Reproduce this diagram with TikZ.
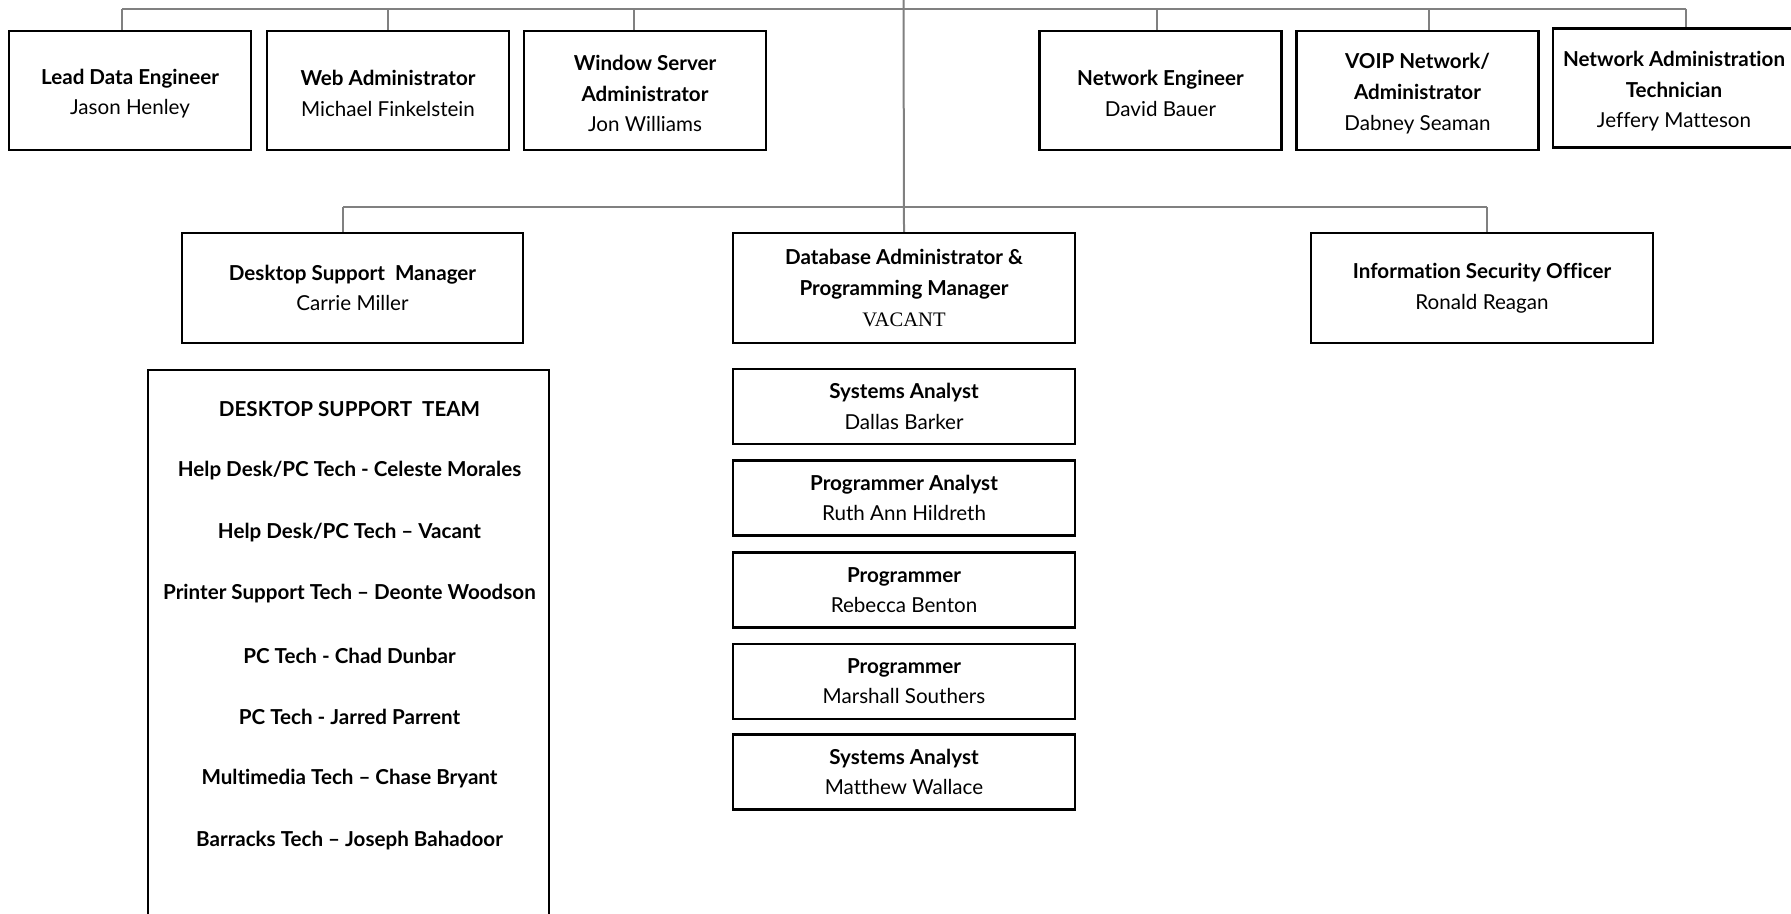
\documentclass[tikz,border=0pt]{standalone}
\usepackage{fontspec}
\setmainfont{Lato}[Ligatures={TeX,NoCommon}]
\newfontfamily\vacfont{Liberation Serif}
\newcommand\dn[1]{\raisebox{-1.6pt}[\height][\depth]{#1}}
\begin{document}
\begin{tikzpicture}[x=0.5pt,y=-0.5pt,
  box/.style={draw=black,line width=1.2pt,align=center,inner sep=0pt,
    font=\fontsize{10.3}{15.3}\selectfont},
  topbox/.style={box,minimum width=121pt,minimum height=59.5pt},
  midbox/.style={box,minimum width=170.75pt,minimum height=55pt},
  colbox/.style={box,minimum width=170.75pt,minimum height=37.5pt},
  teamitem/.style={font=\fontsize{10.3}{15}\selectfont\bfseries,inner sep=0pt},
  conn/.style={draw=black!50,line width=1pt}]
\useasboundingbox (0,0) rectangle (1791,914);
\clip (0,0) rectangle (1791,914);

% top row
\node[topbox] (ld) at (130,90.5) {\dn{\textbf{Lead Data Engineer}}\\\dn{Jason Henley}};
\node[topbox] (web) at (388,90.5) {\dn{\textbf{Web Administrator}}\\\dn{Michael Finkelstein}};
\node[topbox] (win) at (645,90.5) {\dn{\textbf{Window Server}}\\\dn{\textbf{Administrator}}\\\dn{Jon Williams}};
\node[topbox] (ne) at (1160.5,90.5) {\dn{\textbf{Network Engineer}}\\\dn{David Bauer}};
\node[topbox] (voip) at (1417.5,90.5) {\dn{\textbf{VOIP Network/}}\\\dn{\textbf{Administrator}}\\\dn{Dabney Seaman}};
\node[topbox] (nat) at (1674,88) {\dn{\textbf{Network Administration}}\\\dn{\textbf{Technician}}\\\dn{Jeffery Matteson}};

% second row
\node[midbox] (dsm) at (352.5,288) {\textbf{Desktop Support\ \ Manager}\\Carrie Miller};
\node[midbox] (db) at (904,288) {\textbf{Database Administrator \&}\\\textbf{Programming Manager}\\{\vacfont VACANT}};
\node[midbox] (iso) at (1482,288) {\textbf{Information Security Officer}\\Ronald Reagan};

% desktop support team
\node[draw=black,line width=1.2pt,minimum width=200.5pt,minimum height=300pt,anchor=north,inner sep=0pt] (team) at (348.5,369) {};
\node[teamitem] (t0) at (349.5,409) {DESKTOP SUPPORT\ \ TEAM};
\node[teamitem] (t1) at (349.5,470.6) {Help Desk/PC Tech - Celeste Morales};
\node[teamitem] (t2) at (349.5,532.3) {Help Desk/PC Tech -- Vacant};
\node[teamitem] (t3) at (349.5,594) {Printer Support Tech -- Deonte Woodson};
\node[teamitem] (t4) at (349.5,655.7) {PC Tech - Chad Dunbar};
\node[teamitem] (t5) at (349.5,717.4) {PC Tech - Jarred Parrent};
\node[teamitem] (t6) at (349.5,779) {Multimedia Tech -- Chase Bryant};
\node[teamitem] (t7) at (349.5,840.8) {Barracks Tech -- Joseph Bahadoor};

% programming column
\node[colbox] (c1) at (904,406.6) {\textbf{Systems Analyst}\\Dallas Barker};
\node[colbox] (c2) at (904,498) {\textbf{Programmer Analyst}\\Ruth Ann Hildreth};
\node[colbox] (c3) at (904,590) {\textbf{Programmer}\\Rebecca Benton};
\node[colbox] (c4) at (904,681.3) {\textbf{Programmer}\\Marshall Southers};
\node[colbox] (c5) at (904,772.1) {\textbf{Systems Analyst}\\Matthew Wallace};

% connectors
\coordinate (top) at (903.5,0);
\coordinate (b1) at (122,9);
\coordinate (b2) at (388,9);
\coordinate (b3) at (634,9);
\coordinate (b4) at (1157,9);
\coordinate (b5) at (1429,9);
\coordinate (b6) at (1686,9);
\coordinate (m1) at (343,207);
\coordinate (m2) at (1487,207);

\draw[conn] (top) -- (db.north);
\draw[conn] (b1) -- (b6);
\draw[conn] (b1) -- (b1 |- ld.north);
\draw[conn] (b2) -- (b2 |- web.north);
\draw[conn] (b3) -- (b3 |- win.north);
\draw[conn] (b4) -- (b4 |- ne.north);
\draw[conn] (b5) -- (b5 |- voip.north);
\draw[conn] (b6) -- (b6 |- nat.north);
\draw[conn] (m1) -- (m2);
\draw[conn] (m1) -- (m1 |- dsm.north);
\draw[conn] (m2) -- (m2 |- iso.north);
\end{tikzpicture}
\end{document}
